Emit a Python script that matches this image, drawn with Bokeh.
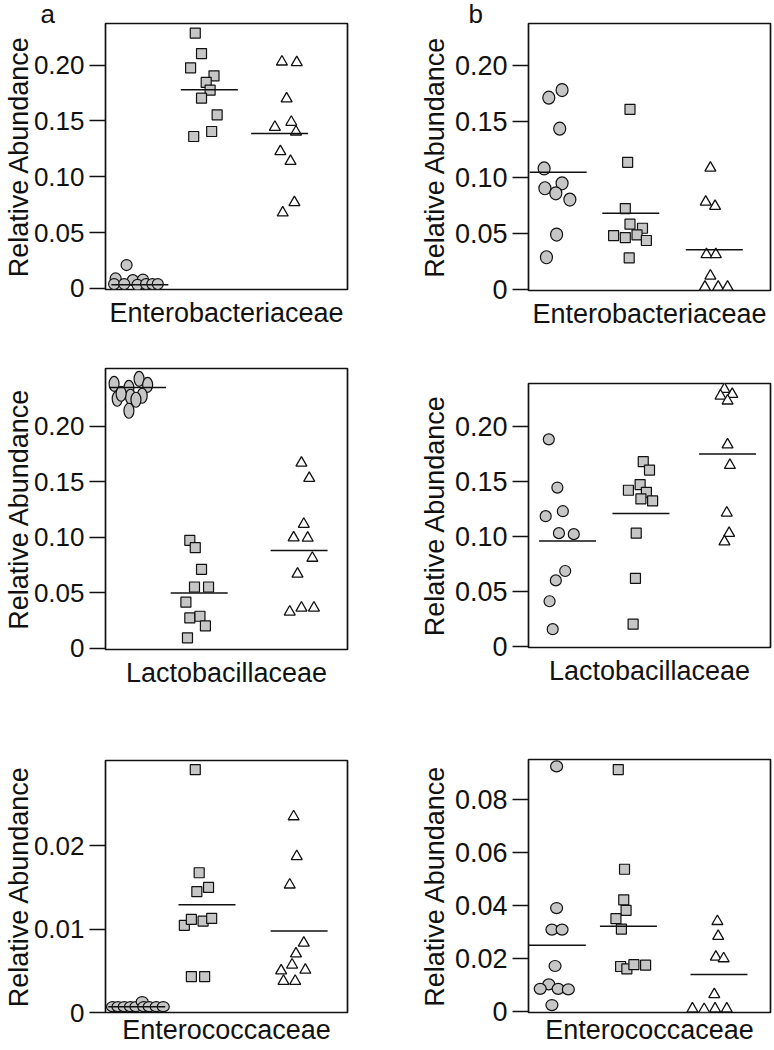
from bokeh.plotting import figure
from bokeh.layouts import column, row
from bokeh.models import Range1d, FixedTicker
from bokeh.embed import file_html
from bokeh.resources import INLINE

# ---------------- data ----------------
FAMILIES = ["Enterobacteriaceae", "Lactobacillaceae", "Enterococcaceae"]
Y_TITLE = "Relative Abundance"
PANEL_LETTERS = ["a", "b"]

TICKS_MAIN = [0, 0.05, 0.10, 0.15, 0.20]
TICKLAB_MAIN = ["0", "0.05", "0.10", "0.15", "0.20"]
TICKS_A3 = [0, 0.01, 0.02]
TICKLAB_A3 = ["0", "0.01", "0.02"]
TICKS_B3 = [0, 0.02, 0.04, 0.06, 0.08]
TICKLAB_B3 = ["0", "0.02", "0.04", "0.06", "0.08"]

# panel a, Enterobacteriaceae
A1_CIRC_X = [0.77, 0.63, 0.85, 0.98, 0.61, 0.74, 0.91, 1.02, 1.10, 1.17]
A1_CIRC_Y = [0.021, 0.009, 0.0075, 0.008, 0.004, 0.004, 0.0033, 0.004, 0.004, 0.004]
A1_SQ_X = [1.65, 1.73, 1.59, 1.89, 1.79, 1.84, 1.73, 1.93, 1.86, 1.63]
A1_SQ_Y = [0.2287, 0.2104, 0.1976, 0.1904, 0.1845, 0.1776, 0.1704, 0.1555, 0.1406, 0.1361]
A1_TRI_X = [2.76, 2.95, 2.82, 2.67, 2.88, 2.94, 2.74, 2.87, 2.92, 2.77]
A1_TRI_Y = [0.203, 0.2024, 0.170, 0.1445, 0.149, 0.1403, 0.1227, 0.114, 0.077, 0.0678]
A1_MED_X = [0.94, 1.83, 2.73]
A1_MED_Y = [0.0033, 0.178, 0.1388]

# panel b, Enterobacteriaceae
B1_CIRC_X = [0.93, 0.76, 0.90, 0.70, 0.93, 0.71, 0.85, 1.03, 0.86, 0.73]
B1_CIRC_Y = [0.1778, 0.171, 0.1434, 0.108, 0.0948, 0.0904, 0.0859, 0.0803, 0.0492, 0.029]
B1_SQ_X = [1.80, 1.77, 1.74, 1.80, 1.96, 1.59, 1.74, 1.89, 2.01, 1.79]
B1_SQ_Y = [0.1606, 0.1135, 0.0723, 0.0584, 0.0548, 0.0483, 0.0465, 0.0489, 0.0439, 0.0284]
B1_TRI_X = [2.83, 2.77, 2.89, 2.78, 2.90, 2.83, 2.76, 2.93, 3.05]
B1_TRI_Y = [0.1084, 0.0782, 0.0744, 0.0314, 0.0314, 0.0124, 0.0025, 0.0025, 0.0025]
B1_MED_X = [0.88, 1.81, 2.88]
B1_MED_Y = [0.1046, 0.0681, 0.0356]

# panel a, Lactobacillaceae
A2_CIRC_X = [0.61, 0.80, 0.93, 1.04, 0.65, 0.82, 0.97, 0.89, 0.80, 0.70]
A2_CIRC_Y = [0.2379, 0.2343, 0.2424, 0.237, 0.2245, 0.2263, 0.2272, 0.2236, 0.2137, 0.229]
A2_SQ_X = [1.58, 1.65, 1.73, 1.64, 1.82, 1.53, 1.58, 1.71, 1.78, 1.55]
A2_SQ_Y = [0.0972, 0.0906, 0.0712, 0.0553, 0.0553, 0.0416, 0.0275, 0.029, 0.0203, 0.0096]
A2_TRI_X = [3.01, 3.11, 3.04, 2.91, 3.09, 3.15, 2.96, 2.86, 3.01, 3.17]
A2_TRI_Y = [0.1668, 0.1531, 0.1118, 0.0996, 0.0993, 0.0813, 0.067, 0.0329, 0.0365, 0.0365]
A2_MED_X = [0.91, 1.70, 2.98]
A2_MED_Y = [0.2346, 0.0499, 0.0882]

# panel b, Lactobacillaceae
B2_CIRC_X = [0.76, 0.87, 0.94, 0.72, 0.89, 1.08, 0.97, 0.85, 0.77, 0.81]
B2_CIRC_Y = [0.188, 0.1443, 0.1229, 0.1184, 0.103, 0.1021, 0.0687, 0.0602, 0.0413, 0.016]
B2_SQ_X = [1.97, 2.05, 1.93, 1.78, 2.01, 1.94, 2.09, 1.88, 1.87, 1.84]
B2_SQ_Y = [0.1678, 0.1602, 0.147, 0.1419, 0.14, 0.134, 0.1322, 0.103, 0.062, 0.0205]
B2_TRI_X = [3.01, 3.11, 2.96, 3.05, 3.05, 3.08, 3.04, 3.07, 3.01]
B2_TRI_Y = [0.2335, 0.2289, 0.2274, 0.2229, 0.1831, 0.1645, 0.1214, 0.103, 0.0952]
B2_MED_X = [1.00, 1.94, 3.05]
B2_MED_Y = [0.0958, 0.1208, 0.1747]

# panel a, Enterococcaceae
A3_CIRC_X = [0.59, 0.66, 0.74, 0.82, 0.89, 0.97, 0.99, 1.06, 1.15, 1.24]
A3_CIRC_Y = [0.0007, 0.0007, 0.0007, 0.0007, 0.0007, 0.0013, 0.0007, 0.0007, 0.0007, 0.0007]
A3_SQ_X = [1.65, 1.70, 1.67, 1.82, 1.51, 1.60, 1.75, 1.86, 1.60, 1.77]
A3_SQ_Y = [0.0291, 0.01675, 0.01448, 0.01499, 0.01045, 0.01115, 0.01096, 0.01127, 0.0043, 0.0043]
A3_TRI_X = [2.91, 2.95, 2.86, 3.04, 2.94, 2.89, 2.75, 3.06, 2.78, 2.93]
A3_TRI_Y = [0.02348, 0.01871, 0.0153, 0.00834, 0.00705, 0.00571, 0.00501, 0.00509, 0.00376, 0.00376]
A3_MED_X = [0.90, 1.80, 2.98]
A3_MED_Y = [0.0007, 0.01292, 0.00978]

# panel b, Enterococcaceae
B3_CIRC_X = [0.86, 0.86, 0.80, 0.93, 0.84, 0.76, 0.65, 0.88, 1.01, 0.80]
B3_CIRC_Y = [0.0924, 0.0391, 0.031, 0.031, 0.0173, 0.0104, 0.0087, 0.0087, 0.0085, 0.0026]
B3_SQ_X = [1.65, 1.73, 1.72, 1.75, 1.62, 1.69, 1.68, 1.76, 1.85, 2.00]
B3_SQ_Y = [0.0912, 0.0537, 0.0422, 0.0382, 0.0351, 0.0312, 0.0171, 0.0162, 0.0178, 0.0176]
B3_TRI_X = [2.92, 2.93, 2.90, 3.00, 2.88, 2.60, 2.75, 2.89, 3.04]
B3_TRI_Y = [0.0341, 0.0285, 0.0207, 0.0201, 0.0066, 0.0012, 0.0010, 0.0012, 0.0012]
B3_MED_X = [0.87, 1.78, 2.94]
B3_MED_Y = [0.0251, 0.0323, 0.0141]

# ---------------- style / layout ----------------
FONT = "Liberation Sans"
INK = "#111111"
GRAY = "#c6c6c6"
LABEL_PX = "27px"
MED_HALF = 0.365

# figure box / frame box in page pixels; each column is its own stack
PANELS = [
    dict(fig=(0, 0, 385, 340), frame=(105, 347, 23, 289), yr=(-0.0009, 0.2373),
         ticks=TICKS_MAIN, labs=TICKLAB_MAIN, family=FAMILIES[0], tick_px="26px",
         ystand=-3, xstand=8, circ=(11, 11), letter=(PANEL_LETTERS[0], 40),
         data=(A1_CIRC_X, A1_CIRC_Y, A1_SQ_X, A1_SQ_Y, A1_TRI_X, A1_TRI_Y, A1_MED_X, A1_MED_Y)),
    dict(fig=(0, 340, 385, 705), frame=(105, 347, 368, 649), yr=(-0.0009, 0.2517),
         ticks=TICKS_MAIN, labs=TICKLAB_MAIN, family=FAMILIES[1], tick_px="26px",
         ystand=-3, xstand=8, circ=(10, 15), letter=None,
         data=(A2_CIRC_X, A2_CIRC_Y, A2_SQ_X, A2_SQ_Y, A2_TRI_X, A2_TRI_Y, A2_MED_X, A2_MED_Y)),
    dict(fig=(0, 705, 385, 1049), frame=(105, 347, 760, 1012), yr=(0.0, 0.0302),
         ticks=TICKS_A3, labs=TICKLAB_A3, family=FAMILIES[2], tick_px="26px",
         ystand=-3, xstand=2, circ=(12, 10), letter=None,
         data=(A3_CIRC_X, A3_CIRC_Y, A3_SQ_X, A3_SQ_Y, A3_TRI_X, A3_TRI_Y, A3_MED_X, A3_MED_Y)),
    dict(fig=(385, 0, 773, 340), frame=(528, 770, 23, 290), yr=(-0.0006, 0.237),
         ticks=TICKS_MAIN, labs=TICKLAB_MAIN, family=FAMILIES[0], tick_px="27px",
         ystand=2, xstand=8, circ=(12, 13), letter=(PANEL_LETTERS[1], 468),
         data=(B1_CIRC_X, B1_CIRC_Y, B1_SQ_X, B1_SQ_Y, B1_TRI_X, B1_TRI_Y, B1_MED_X, B1_MED_Y)),
    dict(fig=(385, 340, 773, 705), frame=(528, 770, 383, 647), yr=(-0.0006, 0.2386),
         ticks=TICKS_MAIN, labs=TICKLAB_MAIN, family=FAMILIES[1], tick_px="27px",
         ystand=2, xstand=8, circ=(11, 11), letter=None,
         data=(B2_CIRC_X, B2_CIRC_Y, B2_SQ_X, B2_SQ_Y, B2_TRI_X, B2_TRI_Y, B2_MED_X, B2_MED_Y)),
    dict(fig=(385, 705, 773, 1049), frame=(528, 770, 759, 1012), yr=(-0.0002, 0.095),
         ticks=TICKS_B3, labs=TICKLAB_B3, family=FAMILIES[2], tick_px="27px",
         ystand=2, xstand=2, circ=(12, 11), letter=None,
         data=(B3_CIRC_X, B3_CIRC_Y, B3_SQ_X, B3_SQ_Y, B3_TRI_X, B3_TRI_Y, B3_MED_X, B3_MED_Y)),
]


def make_panel(cfg):
    fx0, fy0, fx1, fy1 = cfg["fig"]
    L, R, T, B = cfg["frame"]
    p = figure(width=fx1 - fx0, height=fy1 - fy0,
               x_range=Range1d(0.5, 3.6), y_range=Range1d(*cfg["yr"]),
               x_axis_location="below", y_axis_location="left",
               toolbar_location=None, output_backend="svg",
               min_border_left=L - fx0, min_border_right=fx1 - R,
               min_border_top=T - fy0, min_border_bottom=fy1 - B)
    p.background_fill_color = "white"
    p.border_fill_color = "white"
    p.outline_line_color = INK
    p.outline_line_width = 1.7
    p.outline_line_alpha = 1.0
    p.grid.grid_line_color = None

    # y axis
    ax = p.yaxis[0]
    ax.ticker = FixedTicker(ticks=cfg["ticks"])
    ax.major_label_overrides = dict(zip(cfg["ticks"], cfg["labs"]))
    ax.major_tick_in = 0
    ax.major_tick_out = 16
    ax.minor_tick_in = 0
    ax.minor_tick_out = 0
    ax.major_tick_line_color = INK
    ax.major_tick_line_width = 1.5
    ax.axis_line_color = None
    ax.major_label_text_font = FONT
    ax.major_label_text_font_size = cfg["tick_px"]
    ax.major_label_text_color = INK
    ax.major_label_standoff = 5
    ax.axis_label = Y_TITLE
    ax.axis_label_text_font = FONT
    ax.axis_label_text_font_size = LABEL_PX
    ax.axis_label_text_font_style = "normal"
    ax.axis_label_text_color = INK
    ax.axis_label_standoff = cfg["ystand"]

    # x axis: only the family name
    bx = p.xaxis[0]
    bx.ticker = FixedTicker(ticks=[])
    bx.major_tick_in = 0
    bx.major_tick_out = 0
    bx.minor_tick_in = 0
    bx.minor_tick_out = 0
    bx.major_label_standoff = 0
    bx.axis_line_color = None
    bx.axis_label = cfg["family"]
    bx.axis_label_text_font = FONT
    bx.axis_label_text_font_size = LABEL_PX
    bx.axis_label_text_font_style = "normal"
    bx.axis_label_text_color = INK
    bx.axis_label_standoff = cfg["xstand"]

    # panel letter as a left-aligned title
    if cfg["letter"] is not None:
        t, lx = cfg["letter"]
        p.title.text = t
        p.title.align = "left"
        p.title.offset = lx - L
        p.title.standoff = -10
        p.title.text_font = FONT
        p.title.text_font_size = "26px"
        p.title.text_font_style = "normal"
        p.title.text_color = INK

    cx, cy, sx, sy, tx, ty, mx, my = cfg["data"]
    cw, ch = cfg["circ"]
    p.ellipse(x=cx, y=cy, width=cw, height=ch, width_units="screen", height_units="screen",
              fill_color=GRAY, line_color=INK, line_width=1.2)
    p.scatter(x=sx, y=sy, marker="square", size=10, fill_color=GRAY,
              line_color=INK, line_width=1.2)
    p.scatter(x=tx, y=ty, marker="triangle", size=11, fill_color="white",
              line_color=INK, line_width=1.3)
    p.segment(x0=[m - MED_HALF for m in mx], y0=my, x1=[m + MED_HALF for m in mx], y1=my,
              line_color=INK, line_width=1.5)
    return p


figs = [make_panel(c) for c in PANELS]
layout = row(column(figs[0], figs[1], figs[2]), column(figs[3], figs[4], figs[5]))

open("out.html", "w").write(file_html(layout, INLINE))
